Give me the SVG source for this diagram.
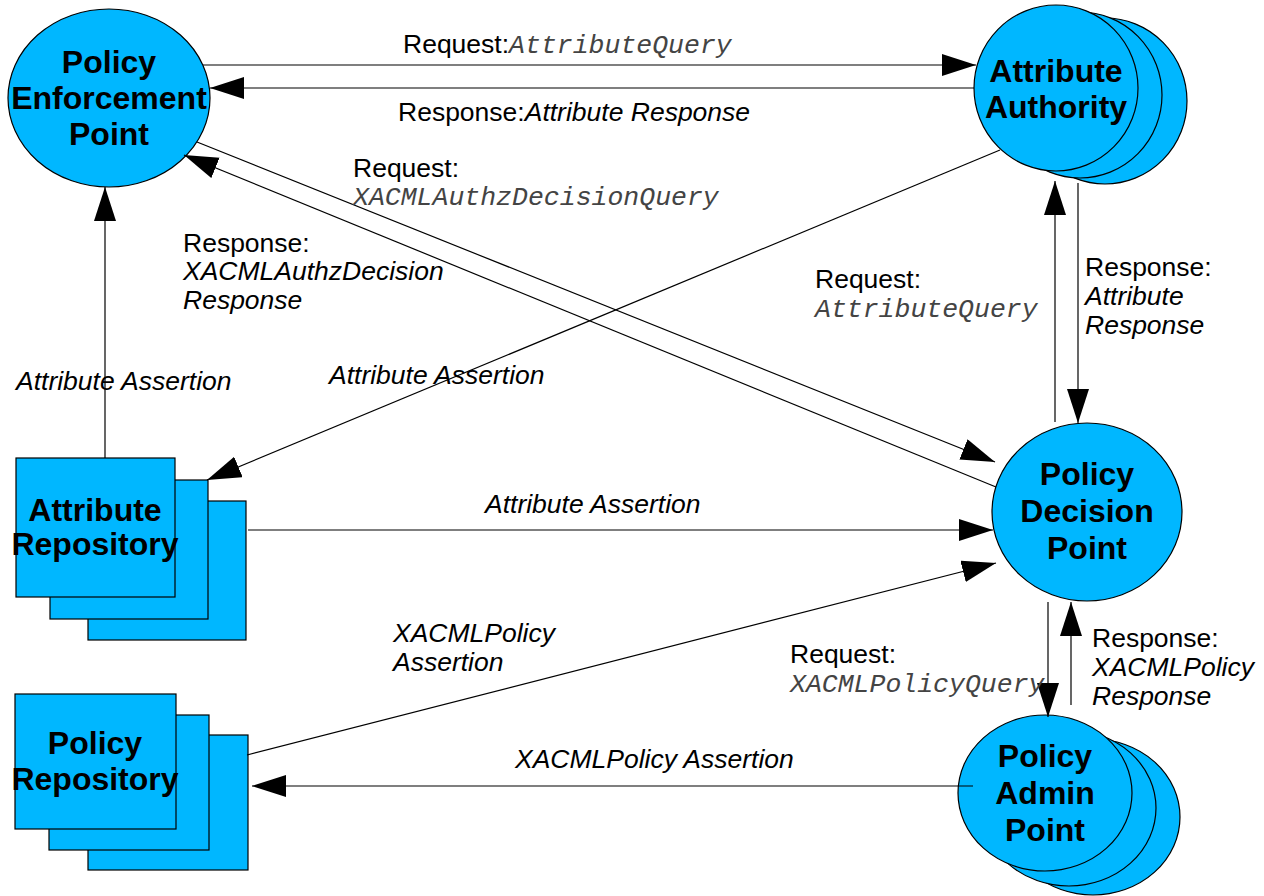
<svg xmlns="http://www.w3.org/2000/svg" width="1264" height="896" viewBox="0 0 1264 896">
<defs>
<marker id="arr" markerUnits="userSpaceOnUse" markerWidth="36" markerHeight="24" refX="34" refY="11" orient="auto">
<path d="M0,0 L34,11 L0,22 z" fill="#000"/>
</marker>
<style>
.n{fill:#00b7ff;stroke:#000;stroke-width:1.2}
.t{font-family:"Liberation Sans",Arial,sans-serif;font-weight:bold;font-size:32px;text-anchor:middle;fill:#000}
.l{font-family:"Liberation Sans",Arial,sans-serif;font-size:26.5px;fill:#000}
.i{font-style:italic}
.m{font-family:"Liberation Mono","Courier New",monospace;font-style:italic;font-size:26.5px;fill:#444}
.c line{stroke:#000;stroke-width:1.2;fill:none}
</style>
</defs>
<rect width="1264" height="896" fill="#fff"/>

<g id="pep">
<ellipse class="n" cx="109" cy="98" rx="101" ry="89"/>
<text class="t" x="109" y="73">Policy</text>
<text class="t" x="109" y="109">Enforcement</text>
<text class="t" x="109" y="145">Point</text>
</g>

<g id="aa">
<ellipse class="n" cx="1105" cy="101" rx="82" ry="83"/>
<ellipse class="n" cx="1080" cy="95" rx="82" ry="83"/>
<ellipse class="n" cx="1056" cy="88" rx="82" ry="83"/>
<text class="t" x="1056" y="82">Attribute</text>
<text class="t" x="1056" y="118">Authority</text>
</g>

<g id="pdp">
<ellipse class="n" cx="1087" cy="512" rx="95" ry="89"/>
<text class="t" x="1087" y="485">Policy</text>
<text class="t" x="1087" y="522">Decision</text>
<text class="t" x="1087" y="559">Point</text>
</g>

<g id="pap">
<ellipse class="n" cx="1093" cy="817" rx="87" ry="78"/>
<ellipse class="n" cx="1069" cy="808" rx="87" ry="78"/>
<ellipse class="n" cx="1045" cy="793" rx="87" ry="78"/>
<text class="t" x="1045" y="767">Policy</text>
<text class="t" x="1045" y="804">Admin</text>
<text class="t" x="1045" y="841">Point</text>
</g>

<g id="attr-repo">
<rect class="n" x="88" y="501" width="158" height="139"/>
<rect class="n" x="50" y="480" width="158" height="139"/>
<rect class="n" x="16" y="458" width="159" height="139"/>
<text class="t" x="95" y="521">Attribute</text>
<text class="t" x="95" y="555">Repository</text>
</g>

<g id="policy-repo">
<rect class="n" x="88" y="735" width="160" height="135"/>
<rect class="n" x="49" y="715" width="160" height="135"/>
<rect class="n" x="15" y="694" width="161" height="135"/>
<text class="t" x="95" y="754">Policy</text>
<text class="t" x="95" y="790">Repository</text>
</g>

<g id="connectors" class="c">
<line x1="203" y1="65" x2="976" y2="65" marker-end="url(#arr)"/>
<line x1="974" y1="88" x2="210" y2="88" marker-end="url(#arr)"/>
<line x1="197" y1="142" x2="995" y2="462" marker-end="url(#arr)"/>
<line x1="996" y1="487" x2="184" y2="155" marker-end="url(#arr)"/>
<line x1="1000" y1="150" x2="207" y2="480" marker-end="url(#arr)"/>
<line x1="105" y1="458" x2="105" y2="187" marker-end="url(#arr)"/>
<line x1="248" y1="530" x2="993" y2="530" marker-end="url(#arr)"/>
<line x1="247" y1="755" x2="996" y2="563" marker-end="url(#arr)"/>
<line x1="973" y1="786" x2="252" y2="786" marker-end="url(#arr)"/>
<line x1="1055" y1="422" x2="1055" y2="181" marker-end="url(#arr)"/>
<line x1="1078" y1="183" x2="1078" y2="423" marker-end="url(#arr)"/>
<line x1="1048" y1="602" x2="1048" y2="717" marker-end="url(#arr)"/>
<line x1="1071" y1="705" x2="1071" y2="602" marker-end="url(#arr)"/>
</g>

<g id="labels">
<text class="l" x="403" y="53">Request:<tspan class="m">AttributeQuery</tspan></text>
<text class="l" x="398" y="121">Response:<tspan class="i">Attribute Response</tspan></text>
<text class="l" x="353" y="177">Request:</text>
<text class="m" x="353" y="205">XACMLAuthzDecisionQuery</text>
<text class="l" x="183" y="252">Response:</text>
<text class="l i" x="183" y="280">XACMLAuthzDecision</text>
<text class="l i" x="183" y="309">Response</text>
<text class="l i" x="16" y="390">Attribute Assertion</text>
<text class="l i" x="329" y="384">Attribute Assertion</text>
<text class="l" x="815" y="288">Request:</text>
<text class="m" x="815" y="317">AttributeQuery</text>
<text class="l" x="1085" y="276">Response:</text>
<text class="l i" x="1085" y="305">Attribute</text>
<text class="l i" x="1085" y="334">Response</text>
<text class="l i" x="485" y="513">Attribute Assertion</text>
<text class="l i" x="393" y="642">XACMLPolicy</text>
<text class="l i" x="393" y="671">Assertion</text>
<text class="l" x="790" y="663">Request:</text>
<text class="m" x="790" y="692">XACMLPolicyQuery</text>
<text class="l" x="1092" y="647">Response:</text>
<text class="l i" x="1092" y="676">XACMLPolicy</text>
<text class="l i" x="1092" y="705">Response</text>
<text class="l i" x="515" y="768">XACMLPolicy Assertion</text>
</g>
</svg>
